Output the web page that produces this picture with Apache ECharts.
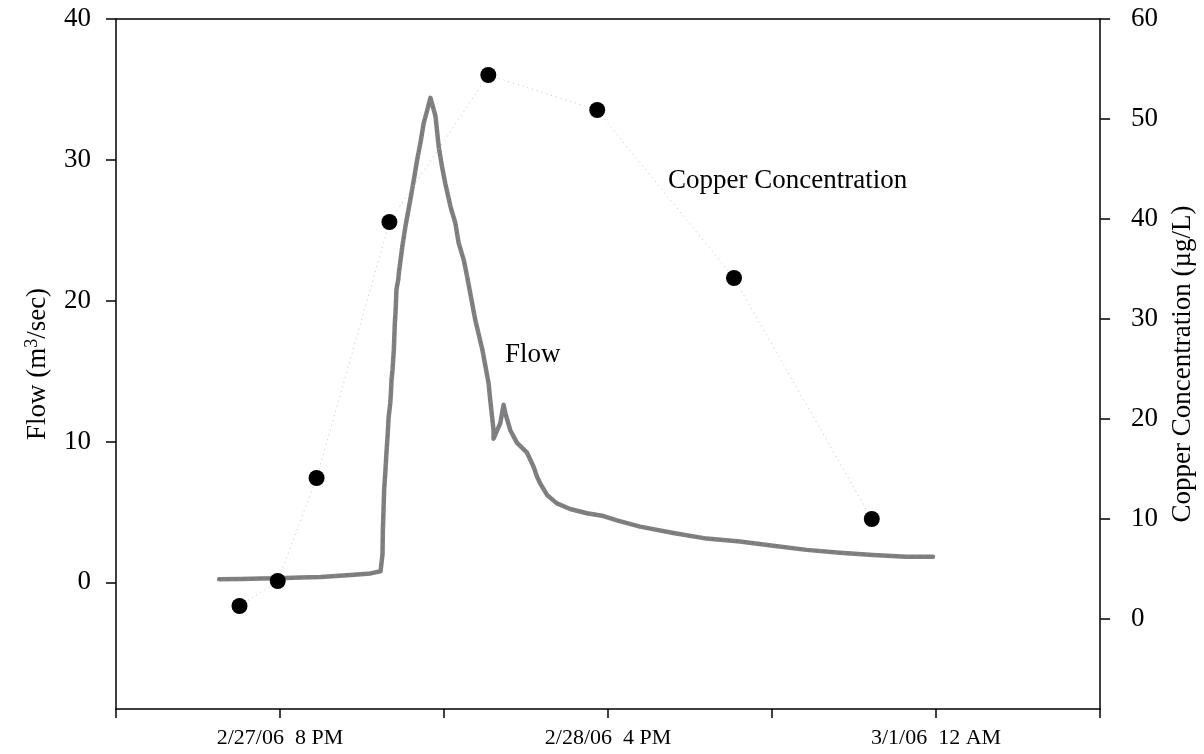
<!DOCTYPE html>
<html>
<head>
<meta charset="utf-8">
<script src="https://cdn.jsdelivr.net/npm/echarts@6/dist/echarts.min.js"></script>
<style>
  html, body { margin: 0; padding: 0; background: #fff; }
  #chart { width: 1204px; height: 754px; }
</style>
</head>
<body>
<div id="chart"></div>
<script>
// Time is measured in hours from 2/27/06 8 PM.
const xTickHours = [0, 20, 40];
const xTickLabels = ['2/27/06  8 PM', '2/28/06  4 PM', '3/1/06  12 AM'];
const flowTicks = [0, 10, 20, 30, 40];
const copperTicks = [0, 10, 20, 30, 40, 50, 60];

// Flow record (m3/sec)
const flowHours = [
  -3.71, -2.39, -1.17, -0.14, 1.26, 2.48, 4.30, 5.52, 6.13, 6.25,
  6.25, 6.27, 6.31, 6.35, 6.42, 6.49, 6.57, 6.62, 6.72, 6.76,
  6.80, 6.86, 6.94, 7.00, 7.04, 7.10, 7.21, 7.24, 7.45, 7.65,
  7.95, 8.16, 8.36, 8.56, 8.76, 8.97, 9.17, 9.48, 9.68, 9.88,
  10.08, 10.39, 10.69, 10.89, 11.20, 11.41, 11.91, 12.34, 12.72, 12.82,
  13.02, 13.02, 13.43, 13.63, 13.74, 14.04, 14.45, 15.06, 15.46, 15.67,
  15.87, 16.28, 16.68, 16.88, 17.69, 18.71, 19.72, 20.54, 21.95, 23.98,
  26.01, 28.04, 30.07, 32.10, 34.13, 36.15, 38.19, 39.81
];
const flowValues = [
  0.21, 0.24, 0.26, 0.28, 0.33, 0.38, 0.52, 0.63, 0.78, 0.92,
  2.0, 3.7, 5.1, 6.6, 7.8, 9.2, 10.6, 11.7, 12.7, 13.4,
  14.4, 15.1, 16.5, 18.4, 19.1, 20.8, 21.5, 21.9, 23.8, 25.3,
  27.2, 28.6, 30.0, 31.2, 32.6, 33.5, 34.4, 33.1, 30.9, 29.5,
  28.3, 26.7, 25.5, 24.1, 22.9, 21.7, 18.6, 16.5, 14.1, 12.9,
  10.8, 10.2, 11.3, 12.6, 12.0, 10.8, 9.9, 9.2, 8.2, 7.5,
  7.0, 6.2, 5.8, 5.6, 5.2, 4.9, 4.7, 4.4, 3.95, 3.5,
  3.1, 2.9, 2.6, 2.3, 2.1, 1.94, 1.82, 1.82
];

// Copper samples (ug/L)
const copperHours = [-2.47, -0.14, 2.23, 6.67, 12.70, 19.34, 27.68, 36.08];
const copperValues = [1.3, 3.8, 14.1, 39.7, 54.4, 50.9, 34.1, 10.0];

const pair = (xs, ys) => xs.map((x, i) => [x, ys[i]]);

const FONT = '"Liberation Serif", "Times New Roman", serif';
const axisLineStyle = { color: '#000', width: 1.5 };

const chart = echarts.init(document.getElementById('chart'), null, { renderer: 'canvas' });

chart.setOption({
  animation: false,
  backgroundColor: '#fff',
  grid: { left: 116, right: 102, top: 19, bottom: 45, containLabel: false },
  xAxis: [
    {
      type: 'value', min: -10, max: 50, interval: 10, position: 'bottom',
      axisLine: { show: true, onZero: false, lineStyle: axisLineStyle },
      axisTick: { show: true, inside: false, length: 9, lineStyle: axisLineStyle },
      splitLine: { show: false },
      axisLabel: {
        customValues: xTickHours,
        formatter: v => { const i = xTickHours.indexOf(v); return i >= 0 ? xTickLabels[i] : ''; },
        fontFamily: FONT, fontSize: 22, color: '#000', margin: 18
      }
    },
    {
      type: 'value', min: -10, max: 50, position: 'top',
      axisLine: { show: true, onZero: false, lineStyle: axisLineStyle },
      axisTick: { show: false }, axisLabel: { show: false }, splitLine: { show: false }
    }
  ],
  yAxis: [
    {
      type: 'value', min: -9, max: 40, position: 'left',
      name: '{t|Flow (m}{s|3}{t|/sec)}',
      nameLocation: 'middle', nameRotate: 90, nameGap: 63,
      nameTextStyle: {
        rich: {
          t: { fontFamily: FONT, fontSize: 27, color: '#000' },
          s: { fontFamily: FONT, fontSize: 18, color: '#000', padding: [0, 0, 12, 0] }
        }
      },
      axisLine: { show: true, onZero: false, lineStyle: axisLineStyle },
      axisTick: { show: true, customValues: flowTicks, length: 10, lineStyle: axisLineStyle },
      axisLabel: { customValues: flowTicks, fontFamily: FONT, fontSize: 27, color: '#000', margin: 25 },
      splitLine: { show: false }
    },
    {
      type: 'value', min: -9, max: 60, position: 'right',
      name: 'Copper Concentration (\u00b5g/L)',
      nameLocation: 'middle', nameRotate: 90, nameGap: 58,
      nameTextStyle: { fontFamily: FONT, fontSize: 27, color: '#000' },
      axisLine: { show: true, onZero: false, lineStyle: axisLineStyle },
      axisTick: { show: true, customValues: copperTicks, length: 10, lineStyle: axisLineStyle },
      axisLabel: { customValues: copperTicks, fontFamily: FONT, fontSize: 27, color: '#000', margin: 31 },
      splitLine: { show: false }
    }
  ],
  series: [
    {
      name: 'Flow', type: 'line', xAxisIndex: 0, yAxisIndex: 0,
      data: pair(flowHours, flowValues),
      showSymbol: false, smooth: false,
      lineStyle: { color: '#808080', width: 4.5, cap: 'round', join: 'round' },
      z: 2
    },
    {
      name: 'Flow detail', type: 'line', xAxisIndex: 0, yAxisIndex: 0,
      data: pair(flowHours, flowValues),
      showSymbol: false,
      lineStyle: { color: '#2a2aff', width: 1, type: [1, 7], opacity: 0.45 },
      z: 3
    },
    {
      name: 'Copper Concentration', type: 'line', xAxisIndex: 0, yAxisIndex: 1,
      data: pair(copperHours, copperValues),
      symbol: 'circle', symbolSize: 16, showSymbol: true,
      itemStyle: { color: '#000' },
      lineStyle: { color: '#c4c4c4', width: 1, type: [1, 4] },
      z: 4
    }
  ],
  graphic: [
    {
      type: 'text', left: 668, top: 167,
      style: { text: 'Copper Concentration', font: '27px ' + FONT, fill: '#000' }
    },
    {
      type: 'text', left: 505, top: 341,
      style: { text: 'Flow', font: '27px ' + FONT, fill: '#000' }
    }
  ]
});
</script>
</body>
</html>
